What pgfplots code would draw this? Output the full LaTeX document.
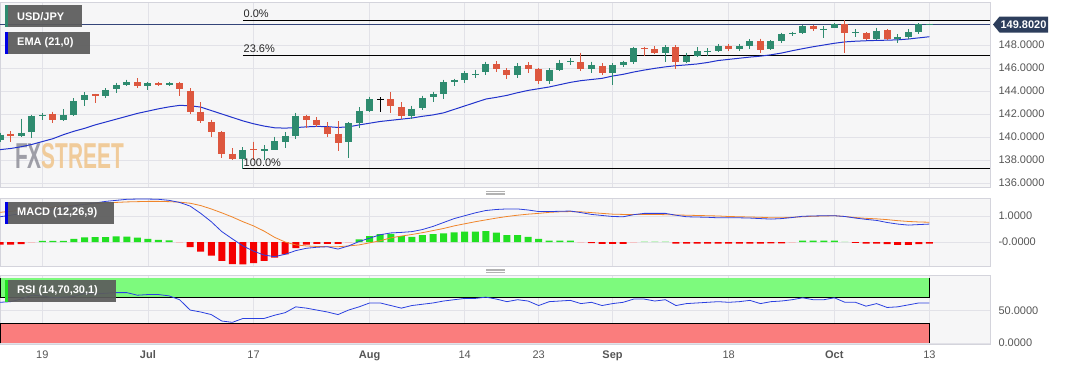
\documentclass[border=0pt]{standalone}
\usepackage{graphicx}
\usepackage{pgfplots}
\pgfplotsset{compat=1.18}
\usepackage{pgfplotstable}
\usepackage{fontspec}
\setmainfont{Liberation Sans}

\definecolor{cgreen}{HTML}{2E8B6F}
\definecolor{cred}{HTML}{DD573F}
\definecolor{emablue}{HTML}{2233CC}
\definecolor{macdblue}{HTML}{2C3FDD}
\definecolor{sigorange}{HTML}{F0852A}
\definecolor{hgreen}{HTML}{22E022}
\definecolor{hred}{HTML}{F50000}
\definecolor{hpink}{HTML}{FFB0B0}
\definecolor{hlgreen}{HTML}{A8F0A8}
\definecolor{panelbg}{HTML}{F6F6F7}
\definecolor{framec}{HTML}{D4D4DC}
\definecolor{gridc}{HTML}{E2E2E8}
\definecolor{labelc}{HTML}{555555}
\definecolor{boxc}{HTML}{5C5C5C}
\definecolor{tagc}{HTML}{2D3E5C}
\definecolor{pricel}{HTML}{34457A}
\definecolor{rsigreen}{HTML}{7DFA7D}
\definecolor{rsired}{HTML}{FA7D7D}
\definecolor{rsiblue}{HTML}{2A40E0}
\definecolor{wmgray}{HTML}{8F8F99}
\definecolor{wmtan}{HTML}{F0C48A}

% green candles: index, body top, body bottom, high, low
\pgfplotstableread{
i bt bb h l
-4 140.20 139.70 140.35 139.60
-2 140.35 140.06 141.57 140.00
-1 141.85 140.40 141.95 139.90
0 141.93 141.85 142.05 141.50
2 141.90 141.50 142.40 141.40
3 143.10 141.90 143.35 141.80
4 143.67 143.18 143.90 142.70
6 144.10 143.60 144.25 143.35
7 144.50 144.16 144.70 143.85
8 144.77 144.54 144.98 144.45
10 144.68 144.40 144.80 144.10
12 144.68 144.54 144.80 144.40
19 138.85 138.10 139.10 137.24
21 138.92 138.82 139.30 138.00
22 139.63 138.90 140.00 138.85
23 140.10 139.60 140.40 139.00
24 141.85 140.10 142.10 139.80
29 141.20 139.54 141.27 138.13
30 142.30 141.20 142.60 140.80
31 143.30 142.30 143.50 142.20
35 142.46 141.80 142.70 141.60
36 143.40 142.50 143.60 142.35
37 143.76 143.44 143.95 143.00
38 144.77 143.73 144.98 143.30
39 144.97 144.77 145.05 144.40
40 145.55 144.97 145.75 144.66
41 145.52 145.46 145.84 145.10
42 146.35 145.63 146.56 145.35
45 146.20 145.40 146.40 145.10
48 145.84 144.88 145.98 144.60
49 146.40 145.84 146.70 145.70
50 146.57 146.51 146.84 146.27
52 146.27 145.90 146.56 145.60
54 146.27 145.55 146.40 144.54
55 146.50 146.27 146.65 146.10
56 147.70 146.50 147.86 146.35
59 147.86 147.33 148.00 146.55
61 147.07 146.55 147.33 146.40
62 147.48 147.07 147.80 146.98
63 147.52 147.46 147.72 147.05
64 147.90 147.50 148.05 147.40
66 147.90 147.63 148.05 147.50
67 148.35 147.90 148.50 147.66
69 148.35 147.63 148.40 147.55
70 148.93 148.37 149.07 148.16
71 149.07 148.93 149.16 148.80
72 149.65 149.07 149.75 148.93
74 149.42 149.36 149.65 148.58
75 149.82 149.45 149.90 149.45
77 149.09 149.03 149.36 148.72
79 149.24 148.52 149.50 148.40
81 148.67 148.52 148.95 148.15
82 149.15 148.72 149.36 148.50
83 149.79 149.15 149.88 149.00
84 149.83 149.77 149.86 149.75
}\greenc

% red candles
\pgfplotstableread{
i bt bb h l
-3 140.27 140.10 140.50 139.60
1 142.00 141.50 142.20 141.20
5 143.73 143.60 143.75 142.95
9 144.77 144.40 145.10 144.30
11 144.68 144.54 144.80 144.45
13 144.68 144.16 144.80 143.60
14 144.00 142.14 144.25 142.00
15 142.20 141.36 143.00 141.20
16 141.30 140.40 141.50 140.00
17 140.40 138.54 140.50 138.20
18 138.54 138.10 139.00 138.00
20 138.92 138.84 139.60 138.00
25 141.85 141.50 141.95 140.80
26 141.50 141.00 141.70 140.90
27 140.84 140.30 141.30 140.00
28 140.30 139.50 141.36 138.76
33 143.30 142.66 143.90 142.10
34 142.60 141.80 143.00 141.60
43 146.35 145.90 146.60 145.63
44 145.84 145.40 146.00 145.00
46 146.27 145.92 146.50 145.56
47 145.92 144.88 145.98 144.60
51 146.50 145.90 147.33 145.70
53 146.20 145.55 146.40 145.40
57 147.70 147.63 147.86 147.05
58 147.65 147.33 147.90 147.20
60 147.86 146.55 148.00 145.90
65 147.90 147.63 148.05 147.50
68 148.35 147.56 148.56 147.30
73 149.65 149.36 149.71 149.22
76 149.82 149.07 150.16 147.30
78 149.07 148.52 149.10 148.40
80 149.30 148.52 149.36 148.45
}\redc

\pgfplotstableread{
i bt bb h l
32 143.33 143.27 143.44 142.20
}\blackc

% indicators: MACD, signal, RSI, EMA(21)
\pgfplotstableread{
i macd sig rsi ema
-4 0.97 1.14 63 138.90
-3 1.03 1.18 64 139.00
-2 1.09 1.22 68 139.15
-1 1.15 1.26 74 139.35
0 1.21 1.30 73 139.60
1 1.27 1.34 70 139.85
2 1.33 1.38 71 140.20
3 1.39 1.41 72 140.50
4 1.45 1.44 77 140.75
5 1.50 1.47 76 141.05
6 1.56 1.50 77 141.30
7 1.60 1.52 78 141.55
8 1.64 1.54 78 141.80
9 1.65 1.55 74 142.05
10 1.65 1.56 75 142.25
11 1.64 1.56 75 142.45
12 1.60 1.55 73 142.62
13 1.52 1.53 67 142.75
14 1.38 1.49 51 142.72
15 1.10 1.40 48 142.60
16 0.78 1.27 44 142.30
17 0.40 1.12 34 142.00
18 0.12 0.96 32 141.70
19 -0.15 0.78 38 141.40
20 -0.35 0.62 38 141.15
21 -0.50 0.42 38 140.95
22 -0.56 0.18 43 140.80
23 -0.47 0.00 47 140.77
24 -0.33 -0.11 56 140.82
25 -0.24 -0.15 54 140.88
26 -0.20 -0.17 51 140.92
27 -0.18 -0.18 48 140.90
28 -0.27 -0.18 44 140.83
29 -0.15 -0.15 51 140.88
30 0.02 -0.11 56 141.05
31 0.15 -0.03 62 141.20
32 0.28 0.05 62 141.35
33 0.35 0.16 58 141.45
34 0.37 0.23 54 141.55
35 0.40 0.29 58 141.65
36 0.48 0.36 60 141.80
37 0.60 0.44 62 141.92
38 0.75 0.52 65 142.10
39 0.90 0.62 67 142.40
40 1.01 0.70 69 142.70
41 1.12 0.78 69 143.00
42 1.21 0.85 71 143.30
43 1.25 0.92 68 143.45
44 1.27 0.98 64 143.62
45 1.27 1.03 67 143.85
46 1.23 1.07 65 144.05
47 1.17 1.10 58 144.20
48 1.17 1.14 64 144.35
49 1.18 1.16 65 144.55
50 1.19 1.17 66 144.75
51 1.13 1.16 61 144.90
52 1.06 1.13 63 145.00
53 1.02 1.10 58 145.10
54 0.98 1.07 61 145.30
55 0.97 1.06 63 145.45
56 1.05 1.06 68 145.65
57 1.10 1.06 68 145.82
58 1.10 1.06 65 145.97
59 1.10 1.05 67 146.10
60 1.03 1.04 58 146.20
61 0.97 1.03 61 146.27
62 0.96 1.02 62 146.35
63 0.95 1.01 63 146.48
64 0.93 1.00 64 146.65
65 0.93 0.98 63 146.75
66 0.93 0.97 64 146.85
67 0.92 0.96 66 146.95
68 0.90 0.95 61 147.03
69 0.88 0.93 64 147.15
70 0.90 0.93 65 147.30
71 0.94 0.95 67 147.50
72 0.99 0.97 70 147.68
73 1.00 0.99 67 147.85
74 1.01 1.00 67 148.00
75 1.01 1.01 70 148.15
76 0.98 0.98 63 148.27
77 0.92 0.94 63 148.33
78 0.87 0.91 57 148.37
79 0.83 0.89 61 148.40
80 0.75 0.86 55 148.42
81 0.69 0.82 56 148.45
82 0.65 0.79 59 148.52
83 0.67 0.77 62 148.62
84 0.69 0.76 62 148.72
}\ind

\pgfplotstableread{
i v
0 0.04
1 0.04
2 0.04
3 0.12
4 0.18
5 0.19
6 0.19
7 0.22
8 0.21
9 0.17
10 0.12
11 0.08
12 0.06
30 0.10
31 0.23
32 0.30
33 0.31
34 0.23
35 0.20
36 0.27
37 0.30
38 0.33
39 0.37
40 0.40
41 0.40
42 0.42
43 0.36
44 0.27
45 0.27
46 0.20
47 0.12
48 0.05
49 0.05
50 0.05
72 0.05
73 0.05
74 0.05
75 0.05
}\hgr

\pgfplotstableread{
i v
57 0.03
58 0.03
59 0.03
76 0.02
}\hlg

\pgfplotstableread{
i v
-4 -0.10
-3 -0.10
-2 -0.08
14 -0.20
15 -0.37
16 -0.52
17 -0.72
18 -0.85
19 -0.86
20 -0.81
21 -0.72
22 -0.60
23 -0.47
24 -0.23
25 -0.10
26 -0.07
27 -0.07
28 -0.07
52 -0.04
53 -0.07
54 -0.07
55 -0.07
60 -0.06
61 -0.06
62 -0.06
63 -0.06
64 -0.06
65 -0.06
66 -0.06
67 -0.06
68 -0.06
69 -0.05
70 -0.05
77 -0.03
78 -0.06
79 -0.06
80 -0.08
81 -0.11
82 -0.11
83 -0.08
84 -0.06
}\hrd

\pgfplotstableread{
i v
-1 -0.02
13 -0.02
29 -0.02
51 -0.02
56 -0.02
71 -0.02
}\hpk

\pgfplotsset{
  panel/.style={
    scale only axis, width=990pt,
    xmin=-4.006, xmax=89.74,
    axis background/.style={fill=panelbg},
    axis line style={framec},
    xtick={0,10,20,31,40,47,54,65,75,84},
    xmajorgrids, ymajorgrids,
    grid style={gridc, line width=0.6pt},
    major tick length=0pt,
    yticklabel pos=right,
    yticklabel style={anchor=west, xshift=5pt, font=\fontsize{11}{13}\selectfont, text=labelc},
    xticklabel style={font=\fontsize{11}{13}\selectfont, text=labelc, yshift=-3pt},
  },
  wick/.style={only marks, mark=*, mark size=0pt, mark options={draw=none, fill=none},
    error bars/.cd, y dir=minus, y explicit, error mark=none,
    error bar style={draw=#1, solid, line width=1pt}},
  body/.style={only marks, mark=*, mark size=0pt, mark options={draw=none, fill=none},
    error bars/.cd, y dir=minus, y explicit, error mark=none,
    error bar style={draw=#1, solid, line width=7pt}},
}

\begin{document}
\begin{tikzpicture}
\useasboundingbox (0pt,0pt) rectangle (1067pt,-370pt);

% ---------------- price panel ----------------
\begin{axis}[panel, at={(0pt,-2pt)}, anchor=north west, height=185pt,
  ymin=135.65, ymax=151.74,
  ytick={136,138,140,142,144,146,148},
  yticklabels={136.0000,138.0000,140.0000,142.0000,144.0000,146.0000,148.0000},
  xticklabels={}]
\node[anchor=base west, inner sep=0pt, opacity=0.85] at (rel axis cs:0.01515,0.1027)
  {\scalebox{0.58}[1]{\fontsize{36}{36}\selectfont\bfseries\textcolor{wmgray}{FX}\textcolor{wmtan}{STREET}}};
\addplot[pricel, line width=0.9pt] coordinates {(-4.006,149.8) (89.74,149.8)};
\addplot[black, line width=1pt] coordinates {(19,150.16) (89.74,150.16)};
\addplot[black, line width=1pt] coordinates {(19,147.11) (89.74,147.11)};
\addplot[black, line width=1pt] coordinates {(19,137.24) (89.74,137.24)};
\addplot[emablue, line width=1pt, mark=none] table[x=i, y=ema] {\ind};
\addplot[wick=cgreen] table[x=i, y=h, y error minus expr={\thisrow{h}-\thisrow{l}}] {\greenc};
\addplot[body=cgreen] table[x=i, y=bt, y error minus expr={\thisrow{bt}-\thisrow{bb}}] {\greenc};
\addplot[wick=cred] table[x=i, y=h, y error minus expr={\thisrow{h}-\thisrow{l}}] {\redc};
\addplot[body=cred] table[x=i, y=bt, y error minus expr={\thisrow{bt}-\thisrow{bb}}] {\redc};
\addplot[wick=black] table[x=i, y=h, y error minus expr={\thisrow{h}-\thisrow{l}}] {\blackc};
\addplot[body=black] table[x=i, y=bt, y error minus expr={\thisrow{bt}-\thisrow{bb}}] {\blackc};
\node[anchor=base west, inner sep=0pt, yshift=2.5pt, font=\fontsize{11}{13}\selectfont, text=black!85] at (axis cs:19.05,150.16) {0.0\%};
\node[anchor=base west, inner sep=0pt, yshift=2.5pt, font=\fontsize{11}{13}\selectfont, text=black!85] at (axis cs:19.05,147.11) {23.6\%};
\node[anchor=base west, inner sep=0pt, yshift=2.5pt, font=\fontsize{11}{13}\selectfont, text=black!85] at (axis cs:19.05,137.24) {100.0\%};
\end{axis}

% ---------------- MACD panel ----------------
\begin{axis}[panel, at={(0pt,-198pt)}, anchor=north west, height=68pt,
  ymin=-0.92, ymax=1.69,
  ytick={0,1}, yticklabels={-0.0000,1.0000},
  xticklabels={}]
\addplot[ybar, bar width=7pt, bar shift=0pt, fill=hgreen, draw=none] table[x=i, y=v] {\hgr};
\addplot[ybar, bar width=7pt, bar shift=0pt, fill=hlgreen, draw=none] table[x=i, y=v] {\hlg};
\addplot[ybar, bar width=7pt, bar shift=0pt, fill=hred, draw=none] table[x=i, y=v] {\hrd};
\addplot[ybar, bar width=7pt, bar shift=0pt, fill=hpink, draw=none] table[x=i, y=v] {\hpk};
\addplot[sigorange, line width=0.8pt, mark=none] table[x=i, y=sig] {\ind};
\addplot[macdblue, line width=0.8pt, mark=none] table[x=i, y=macd] {\ind};
\end{axis}

% ---------------- RSI panel ----------------
\begin{axis}[panel, at={(0pt,-275pt)}, anchor=north west, height=69pt,
  ymin=-1.55, ymax=105.26,
  ytick={0,50}, yticklabels={0.0000,50.0000},
  xticklabels={19,\textbf{Jul},17,\textbf{Aug},14,23,\textbf{Sep},18,\textbf{Oct},13}]
\addplot[fill=rsigreen, draw=none] coordinates {(-4.006,70) (84,70) (84,100) (-4.006,100)} -- cycle;
\addplot[fill=rsired, draw=none] coordinates {(-4.006,0) (84,0) (84,30) (-4.006,30)} -- cycle;
\addplot[black, line width=0.9pt] coordinates {(-4.006,100) (-4.006,70) (84,70) (84,100)};
\addplot[black, line width=0.9pt] coordinates {(-4.006,0) (-4.006,30) (84,30) (84,0)};
\addplot[rsiblue, line width=0.8pt, mark=none] table[x=i, y=rsi] {\ind};
\end{axis}

% ---------------- overlays ----------------
\fill[boxc, opacity=0.93] (5pt,-5pt) rectangle (82pt,-27pt);
\fill[cgreen] (5pt,-5pt) rectangle (7.5pt,-27pt);
\node[anchor=west, inner sep=0pt, text=white, font=\bfseries\fontsize{11}{13}\selectfont] at (17pt,-16.5pt) {USD/JPY};

\fill[boxc, opacity=0.93] (5pt,-32pt) rectangle (90pt,-53.5pt);
\fill[blue!90!black] (5pt,-32pt) rectangle (7.5pt,-53.5pt);
\node[anchor=west, inner sep=0pt, text=white, font=\bfseries\fontsize{11}{13}\selectfont] at (17pt,-43pt) {EMA (21,0)};

\fill[boxc, opacity=0.93] (5pt,-202pt) rectangle (114pt,-224pt);
\fill[blue!90!black] (5pt,-202pt) rectangle (7.5pt,-224pt);
\node[anchor=west, inner sep=0pt, text=white, font=\bfseries\fontsize{11}{13}\selectfont] at (17pt,-213pt) {MACD (12,26,9)};

\fill[boxc, opacity=0.93] (5pt,-280pt) rectangle (116pt,-302pt);
\fill[hgreen] (5pt,-280pt) rectangle (7.5pt,-302pt);
\node[anchor=west, inner sep=0pt, text=white, font=\bfseries\fontsize{11}{13}\selectfont] at (17pt,-291pt) {RSI (14,70,30,1)};

\fill[tagc] (993pt,-24.5pt) -- (999.5pt,-16.5pt) -- (1048pt,-16.5pt) -- (1048pt,-32.5pt) -- (999.5pt,-32.5pt) -- cycle;
\node[inner sep=0pt, text=white, font=\bfseries\fontsize{11}{13}\selectfont] at (1023.5pt,-24.5pt) {149.8020};

\draw[gray!60, line width=0.5pt] (486pt,-191.5pt) -- (505pt,-191.5pt);
\draw[gray!60, line width=0.5pt] (486pt,-193pt) -- (505pt,-193pt);
\draw[gray!60, line width=0.5pt] (486pt,-194.5pt) -- (505pt,-194.5pt);
\draw[gray!60, line width=0.5pt] (486pt,-269pt) -- (505pt,-269pt);
\draw[gray!60, line width=0.5pt] (486pt,-270.5pt) -- (505pt,-270.5pt);
\draw[gray!60, line width=0.5pt] (486pt,-272pt) -- (505pt,-272pt);
\end{tikzpicture}
\end{document}
